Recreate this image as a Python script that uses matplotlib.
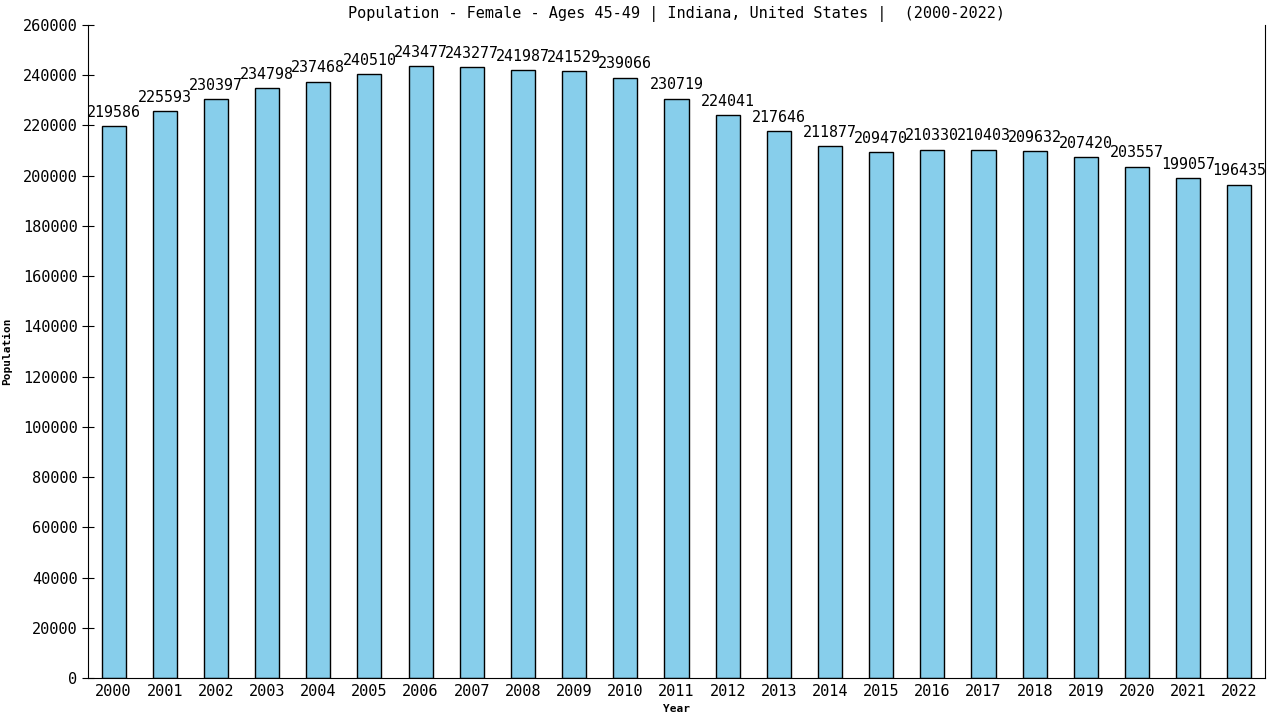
import matplotlib
matplotlib.use("Agg")
import matplotlib.pyplot as plt

years = [str(y) for y in range(2000, 2023)]
population = [219586, 225593, 230397, 234798, 237468, 240510, 243477, 243277,
              241987, 241529, 239066, 230719, 224041, 217646, 211877, 209470,
              210330, 210403, 209632, 207420, 203557, 199057, 196435]
y_ticks = list(range(0, 260001, 20000))

plt.rcParams["font.family"] = "DejaVu Sans Mono"

fig = plt.figure(figsize=(12.8, 7.2), dpi=100)
ax = fig.add_axes([0.06875, 0.0583, 0.9195, 0.9070])

x = range(len(years))
ax.bar(x, population, width=0.47, color="#87CEEB", edgecolor="black", linewidth=1)
for i, v in zip(x, population):
    ax.text(i, v + 2500, str(v), ha="center", va="bottom", fontsize=10.8)

ax.set_xlim(-0.5, len(years) - 0.5)
ax.set_ylim(0, 260000)
ax.set_xticks(list(x))
ax.set_xticklabels(years, fontsize=11)
ax.set_yticks(y_ticks)
ax.set_yticklabels([str(t) for t in y_ticks], fontsize=11)
ax.tick_params(axis="x", length=0, pad=4)
ax.tick_params(axis="y", direction="inout", length=8)
ax.spines["top"].set_visible(False)

ax.set_title("Population - Female - Ages 45-49 | Indiana, United States |  (2000-2022)",
             fontsize=11, pad=5)
ax.set_xlabel("Year", fontsize=8, fontweight="bold", labelpad=4)
ax.set_ylabel("Population", fontsize=8, fontweight="bold", labelpad=8)

fig.savefig("out.png", dpi=100)
